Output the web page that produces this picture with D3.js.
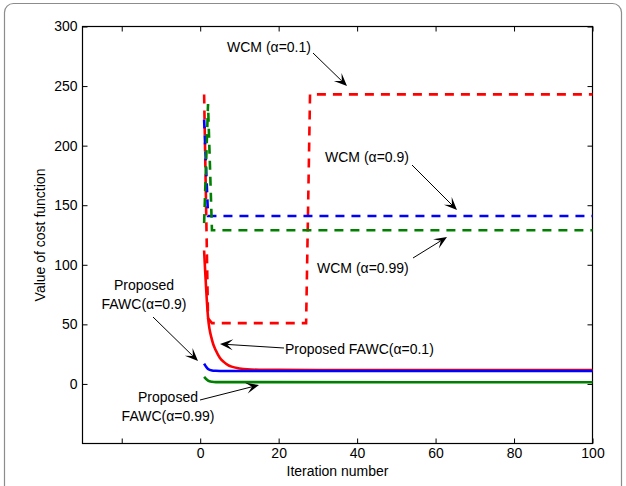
<!DOCTYPE html>
<html>
<head>
<meta charset="utf-8">
<script src="https://cdn.jsdelivr.net/npm/d3@7"></script>
<style>
  html, body { margin: 0; padding: 0; background: #fff; }
  svg { display: block; font-family: "Liberation Sans", Arial, Helvetica, sans-serif; }
</style>
</head>
<body>
<svg id="chart" width="626" height="486"></svg>
<script>
// Axis ranges and ticks
const xDomain = [-30, 100];
const yDomain = [-50, 300];
const xTicks = [-20, 0, 20, 40, 60, 80, 100];
const xTickLabels = ["", "0", "20", "40", "60", "80", "100"];
const yTicks = [0, 50, 100, 150, 200, 250, 300];

// WCM (dashed) series
const wcm01X = [1, 2, 3, 27, 28, 100];
const wcm01Y = [243, 55, 51, 51, 243, 243];
const wcm09X = [1, 2, 100];
const wcm09Y = [222, 141, 141];
const wcm099X = [1, 2, 3, 100];
const wcm099Y = [135, 235, 129, 129];

// Proposed FAWC (solid) series
const fawc01X = [1, 2, 3, 4, 5, 6, 7, 8, 10, 12, 15, 20, 30, 100];
const fawc01Y = [112, 56, 37, 28, 22, 18.5, 16, 14.5, 13, 12.2, 11.9, 11.8, 11.7, 11.7];
const fawc09X = [1, 2, 3, 4, 5, 100];
const fawc09Y = [17, 12.5, 11.3, 11, 10.9, 10.9];
const fawc099X = [1, 2, 3, 4, 100];
const fawc099Y = [6, 2.8, 1.8, 1.5, 1.4];

const svg = d3.select("#chart");
const W = 626, H = 486;
const m = { left: 82.5, right: 592.5, top: 26.5, bottom: 443.5 };

// outer figure frame
svg.append("rect")
  .attr("x", 4.5).attr("y", 3.5)
  .attr("width", 617).attr("height", 520)
  .attr("rx", 9)
  .attr("fill", "#fff")
  .attr("stroke", "#8c8c8c")
  .attr("stroke-width", 1.2);

const x = d3.scaleLinear().domain(xDomain).range([m.left, m.right]);
const y = d3.scaleLinear().domain(yDomain).range([m.bottom, m.top]);

const fontSize = 14;

// axes with inward ticks (bottom/left labelled, top/right mirrored)
const gx = svg.append("g").attr("transform", `translate(0,${m.bottom})`)
  .call(d3.axisBottom(x).tickValues(xTicks)
    .tickFormat((d, i) => xTickLabels[i])
    .tickSizeInner(-5).tickSizeOuter(0).tickPadding(5));
const gxt = svg.append("g").attr("transform", `translate(0,${m.top})`)
  .call(d3.axisTop(x).tickValues(xTicks).tickFormat("")
    .tickSizeInner(-5).tickSizeOuter(0));
const gy = svg.append("g").attr("transform", `translate(${m.left},0)`)
  .call(d3.axisLeft(y).tickValues(yTicks)
    .tickSizeInner(-5).tickSizeOuter(0).tickPadding(5));
const gyr = svg.append("g").attr("transform", `translate(${m.right},0)`)
  .call(d3.axisRight(y).tickValues(yTicks).tickFormat("")
    .tickSizeInner(-5).tickSizeOuter(0));

[gx, gxt, gy, gyr].forEach(g => {
  g.select(".domain").remove();
  g.selectAll(".tick line").attr("stroke", "#000").attr("stroke-width", 1);
  g.selectAll(".tick text")
    .attr("fill", "#000")
    .attr("font-size", fontSize)
    .attr("font-family", "\"Liberation Sans\", Arial, sans-serif");
});

// plot box
svg.append("rect")
  .attr("x", m.left).attr("y", m.top)
  .attr("width", m.right - m.left).attr("height", m.bottom - m.top)
  .attr("fill", "none").attr("stroke", "#000").attr("stroke-width", 1.2);

// axis titles
svg.append("text")
  .attr("x", (m.left + m.right) / 2).attr("y", 476)
  .attr("text-anchor", "middle")
  .attr("font-size", fontSize)
  .text("Iteration number");
svg.append("text")
  .attr("transform", `translate(45,${(m.top + m.bottom) / 2}) rotate(-90)`)
  .attr("text-anchor", "middle")
  .attr("font-size", fontSize)
  .text("Value of cost function");

// series
const plot = svg.append("g");
const line = d3.line().x(d => x(d[0])).y(d => y(d[1]));
const curved = d3.line().x(d => x(d[0])).y(d => y(d[1])).curve(d3.curveMonotoneX);

const series = [
  { xs: wcm01X, ys: wcm01Y, color: "#ff0000", dash: "9,7", gen: line },
  { xs: wcm09X, ys: wcm09Y, color: "#0000ff", dash: "9,7", gen: line },
  { xs: wcm099X, ys: wcm099Y, color: "#008000", dash: "9,7", gen: line },
  { xs: fawc01X, ys: fawc01Y, color: "#ff0000", dash: null, gen: curved },
  { xs: fawc09X, ys: fawc09Y, color: "#0000ff", dash: null, gen: curved },
  { xs: fawc099X, ys: fawc099Y, color: "#008000", dash: null, gen: curved }
];

series.forEach(s => {
  const pts = s.xs.map((v, i) => [v, s.ys[i]]);
  plot.append("path")
    .attr("d", s.gen(pts))
    .attr("fill", "none")
    .attr("stroke", s.color)
    .attr("stroke-width", 2.6)
    .attr("stroke-linejoin", "miter")
    .attr("stroke-dasharray", s.dash);
});

// annotation arrows with text
function arrow(x1, y1, x2, y2) {
  const ang = Math.atan2(y2 - y1, x2 - x1);
  const L = 13, Wd = 11, notch = 0.55;
  const ca = Math.cos(ang), sa = Math.sin(ang);
  const pt = (u, v) => [x2 + u * ca - v * sa, y2 + u * sa + v * ca];
  const nb = pt(-L * notch, 0);
  svg.append("line")
    .attr("x1", x1).attr("y1", y1).attr("x2", nb[0]).attr("y2", nb[1])
    .attr("stroke", "#000").attr("stroke-width", 1);
  const head = [pt(0, 0), pt(-L, Wd / 2), nb, pt(-L, -Wd / 2)];
  svg.append("path")
    .attr("d", "M" + head.map(p => p.join(",")).join("L") + "Z")
    .attr("fill", "#000");
}
function label(lines, cx, cy, anchor) {
  lines.forEach((t, i) => {
    svg.append("text")
      .attr("x", cx).attr("y", cy[i] + 5)
      .attr("text-anchor", anchor || "middle")
      .attr("font-size", fontSize)
      .text(t);
  });
}

label(["WCM (α=0.1)"], 227, [47], "start");
arrow(313, 53, 347, 86);

label(["WCM (α=0.9)"], 325, [157], "start");
arrow(412, 165, 457, 210);

label(["WCM (α=0.99)"], 317, [268], "start");
arrow(413, 258, 447, 237);

label(["Proposed FAWC(α=0.1)"], 285, [349], "start");
arrow(284, 348, 220, 344);

label(["Proposed", "FAWC(α=0.9)"], 144, [285, 304]);
arrow(153, 317, 198, 361);

label(["Proposed", "FAWC(α=0.99)"], 168, [397, 416]);
arrow(200, 400, 259, 385);
</script>
</body>
</html>
